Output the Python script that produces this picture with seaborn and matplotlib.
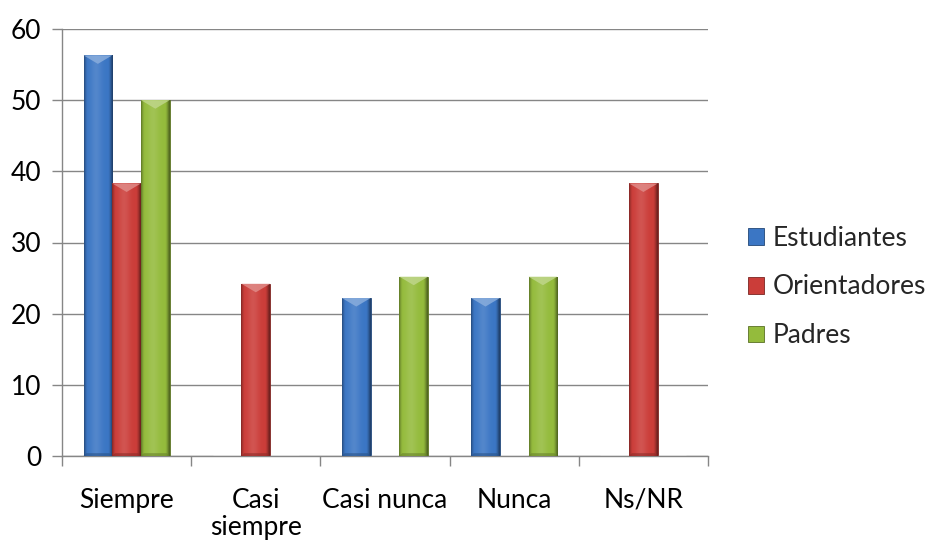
import numpy as np
import pandas as pd
import matplotlib
matplotlib.use("Agg")
import matplotlib.pyplot as plt
import seaborn as sns
from matplotlib.colors import to_rgb
from matplotlib.patches import Polygon, Patch

# Survey answers (%) per group
categories = ["Siempre", "Casi\nsiempre", "Casi nunca", "Nunca", "Ns/NR"]
series = ["Estudiantes", "Orientadores", "Padres"]
estudiantes = [56.3, 0, 22.2, 22.2, 0]
orientadores = [38.3, 24.2, 0, 0, 38.3]
padres = [50, 0, 25.2, 25.2, 0]
y_ticks = [0, 10, 20, 30, 40, 50, 60]
colors = ["#3B76C4", "#CB3D39", "#94BB3C"]

df = pd.DataFrame({
    "categoria": categories * len(series),
    "grupo": np.repeat(series, len(categories)),
    "valor": estudiantes + orientadores + padres,
})

sns.set_theme(style="white")
plt.rcParams["font.family"] = ["Lato", "DejaVu Sans"]

FS = 19
GRID = "#868686"

fig = plt.figure(figsize=(9.25, 5.42), dpi=100)
ax = fig.add_axes([62 / 925, 86 / 542, (708 - 62) / 925, (456 - 29) / 542])

sns.barplot(data=df, x="categoria", y="valor", hue="grupo", order=categories,
            hue_order=series, palette=colors, width=0.667, saturation=1,
            errorbar=None, legend=False, ax=ax, zorder=3)


def shade_profile(rgb, n=80):
    t = np.linspace(0, 1, n)
    light = 0.12 * np.exp(-((t - 0.42) / 0.2) ** 2)
    dark = 0.45 * np.clip((np.abs(t - 0.48) - 0.36) / 0.14, 0, 1) ** 1.5
    base = np.array(rgb)[None, :]
    col = base * (1 - light[:, None]) + light[:, None]
    col = col * (1 - dark[:, None])
    return np.clip(col, 0, 1)[None, :, :]


# Cylinder-style shading on each bar, plus a light bevel at the top
for bar in list(ax.patches):
    h = bar.get_height()
    if h <= 0:
        continue
    x, w = bar.get_x(), bar.get_width()
    rgb = np.array(to_rgb(bar.get_facecolor()))
    img = ax.imshow(shade_profile(rgb), extent=[x, x + w, 0, h], aspect="auto",
                    interpolation="bilinear", zorder=4)
    img.set_clip_path(bar)
    d = 1.2
    ax.add_patch(Polygon([(x, h), (x + w, h), (x + w * 0.5, h - d)],
                         closed=True, facecolor=rgb * 0.6 + 0.4,
                         edgecolor="none", alpha=0.85, zorder=5))
    ax.add_patch(Polygon([(x, 0), (x + w, 0), (x + w * 0.9, 0.4), (x + w * 0.1, 0.4)],
                         closed=True, facecolor=rgb * 0.7, edgecolor="none",
                         alpha=0.6, zorder=5))
    bar.set_edgecolor(rgb * 0.6)
    bar.set_linewidth(0.6)

ax.set_xlim(-0.5, len(categories) - 0.5)
ax.set_ylim(0, 60)
ax.set_yticks(y_ticks)
ax.set_xlabel("")
ax.set_ylabel("")

ax.yaxis.grid(True, color=GRID, linewidth=1)
ax.set_axisbelow(True)
for side in ("top", "right"):
    ax.spines[side].set_visible(False)
for side in ("left", "bottom"):
    ax.spines[side].set_color(GRID)
    ax.spines[side].set_linewidth(1)

ax.tick_params(axis="y", direction="out", length=7, width=1, color=GRID,
               labelsize=FS, pad=8, labelcolor="black", left=True)
ax.set_xticks(range(len(categories)))
ax.set_xticklabels(categories, linespacing=1.12)
ax.set_xticks(np.arange(-0.5, len(categories)), minor=True)
ax.tick_params(axis="x", which="major", length=0, labelsize=FS, pad=23,
               labelcolor="black")
ax.tick_params(axis="x", which="minor", direction="out", length=7, width=1,
               color=GRID, bottom=True)

handles = [Patch(facecolor=c, edgecolor=np.array(to_rgb(c)) * 0.6, linewidth=0.6)
           for c in colors]
fig.legend(handles, series, loc="center left", bbox_to_anchor=(748 / 925, 1 - 287 / 542),
           frameon=False, fontsize=FS, handlelength=0.6, handleheight=0.6,
           handletextpad=0.35, labelspacing=0.9, borderpad=0, borderaxespad=0)

fig.savefig("out.png", dpi=100)
